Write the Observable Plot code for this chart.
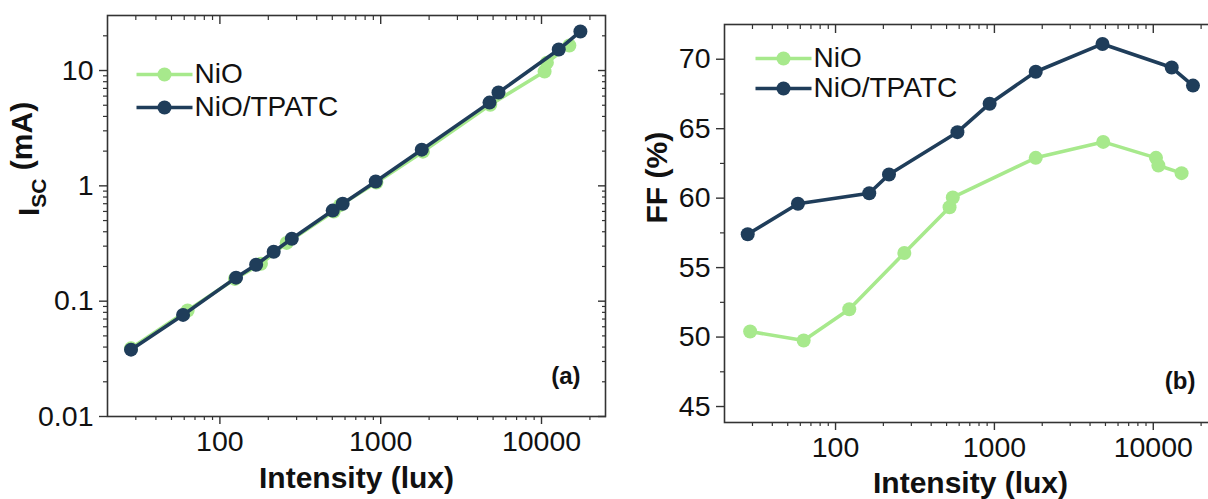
<!DOCTYPE html>
<html><head><meta charset="utf-8">
<script src="https://cdn.jsdelivr.net/npm/d3@7"></script>
<script src="https://cdn.jsdelivr.net/npm/@observablehq/plot@0.6"></script>
<style>
html,body{margin:0;padding:0;background:#fff;overflow:hidden;}
#wrap{position:relative;width:1208px;height:499px;overflow:hidden;background:#fff;}
#pa{position:absolute;left:0;top:0;width:615px;height:499px;}
#pb{position:absolute;left:615px;top:0;width:611px;height:499px;}
</style></head><body>
<div id="wrap"><div id="pa"></div><div id="pb"></div></div>
<script>
// ---- data ----
const seriesNames = ["NiO", "NiO/TPATC"];
const seriesColors = ["#a7e98c", "#1f3d5a"];

// Panel (a): Isc (mA) vs intensity (lux)
const iscNiOLux   = [28, 63, 124, 180, 260, 510, 560, 940, 1830, 4800, 10450, 10800, 14900];
const iscNiO      = [0.039, 0.083, 0.156, 0.211, 0.32, 0.60, 0.68, 1.07, 1.98, 5.05, 9.8, 11.7, 16.5];
const iscTPATCLux = [28, 59, 126, 168, 216, 280, 503, 580, 931, 1800, 4750, 5400, 12800, 17450];
const iscTPATC    = [0.038, 0.076, 0.16, 0.207, 0.268, 0.348, 0.61, 0.70, 1.09, 2.06, 5.27, 6.44, 15.2, 21.8];

// Panel (b): FF (%) vs intensity (lux)
const ffNiOLux   = [29, 63, 122, 271, 522, 547, 1820, 4840, 10400, 10770, 15070];
const ffNiO      = [50.4, 49.75, 52.0, 56.05, 59.35, 60.05, 62.9, 64.05, 62.9, 62.35, 61.8];
const ffTPATCLux = [28, 58, 163, 217, 585, 933, 1820, 4790, 13060, 17780];
const ffTPATC    = [57.4, 59.6, 60.35, 61.7, 64.75, 66.8, 69.1, 71.1, 69.4, 68.1];

// ticks
const xMajor = [100, 1000, 10000];
const xMajorLabels = ["100", "1000", "10000"];
const xMinor = [30, 40, 50, 60, 70, 80, 90, 200, 300, 400, 500, 600, 700, 800, 900,
                2000, 3000, 4000, 5000, 6000, 7000, 8000, 9000, 20000];
const yMajorA = [0.01, 0.1, 1, 10];
const yMajorALabels = ["0.01", "0.1", "1", "10"];
const yMinorA = [0.02, 0.03, 0.04, 0.05, 0.06, 0.07, 0.08, 0.09, 0.2, 0.3, 0.4, 0.5, 0.6, 0.7, 0.8, 0.9,
                 2, 3, 4, 5, 6, 7, 8, 9, 20];
const yMajorB = [45, 50, 55, 60, 65, 70];
const yMajorBLabels = ["45", "50", "55", "60", "65", "70"];
const yMinorB = [47.5, 52.5, 57.5, 62.5, 67.5];

const FONT = "'Liberation Sans', Arial, Helvetica, sans-serif";
const AXIS = "#333";
const TICKFS = 28.5;
const TITLEFS = 30;

function rows(xs, ys, name) { return xs.map((x, i) => ({x, y: ys[i], name})); }

const lineSym = {draw(ctx) { ctx.moveTo(-28, 0); ctx.lineTo(28, 0); }};

function panel(cfg) {
  const series = [
    rows(cfg.xs[0], cfg.ys[0], seriesNames[0]),
    rows(cfg.xs[1], cfg.ys[1], seriesNames[1])
  ];
  const marks = [
    Plot.axisX({anchor: "bottom", ticks: xMajor, tickSize: 8, tickPadding: 6, label: null,
      tickFormat: d => xMajorLabels[xMajor.indexOf(d)], fontSize: TICKFS, stroke: AXIS, strokeWidth: 1.4, fill: "#111"}),
    Plot.axisX({anchor: "bottom", ticks: xMinor, tickSize: 4, label: null, tickFormat: () => "", stroke: AXIS, strokeWidth: 1.2}),
    Plot.axisX({anchor: "top", ticks: xMajor, tickSize: -8, label: null, tickFormat: () => "", stroke: AXIS, strokeWidth: 1.4}),
    Plot.axisX({anchor: "top", ticks: xMinor, tickSize: -4, label: null, tickFormat: () => "", stroke: AXIS, strokeWidth: 1.2}),
    Plot.axisY({anchor: "left", ticks: cfg.yMajor, tickSize: 8, tickPadding: 6, label: null,
      tickFormat: d => cfg.yLabels[cfg.yMajor.indexOf(d)], fontSize: TICKFS, stroke: AXIS, strokeWidth: 1.4, fill: "#111"}),
    Plot.axisY({anchor: "left", ticks: cfg.yMinor, tickSize: 4, label: null, tickFormat: () => "", stroke: AXIS, strokeWidth: 1.2}),
    Plot.axisY({anchor: "right", ticks: cfg.yMajor, tickSize: -8, label: null, tickFormat: () => "", stroke: AXIS, strokeWidth: 1.4}),
    Plot.axisY({anchor: "right", ticks: cfg.yMinor, tickSize: -4, label: null, tickFormat: () => "", stroke: AXIS, strokeWidth: 1.2}),
    Plot.frame({stroke: AXIS, strokeWidth: 1.6}),
    // x title
    Plot.text([cfg.xTitle], {text: d => d, frameAnchor: "bottom", dy: cfg.xTitleDy, lineAnchor: "middle", fontWeight: "bold", fontSize: TITLEFS, fill: "#111"}),
    // y title
    Plot.text([cfg.yTitle], {text: d => d, frameAnchor: "left", dx: cfg.yTitleDx, rotate: -90, lineAnchor: "middle", fontWeight: "bold", fontSize: TITLEFS, fill: "#111"}),
    // panel tag
    Plot.text([cfg.tag], {text: d => d, frameAnchor: "bottom-right", dx: cfg.tagDx, dy: cfg.tagDy, textAnchor: "end", lineAnchor: "middle", fontWeight: "bold", fontSize: 24, fill: "#111"})
  ];
  series.forEach((s, k) => {
    marks.push(Plot.line(s, {x: "x", y: "y", stroke: seriesColors[k], strokeWidth: 3.6}));
    marks.push(Plot.dot(s, {x: "x", y: "y", r: 7, fill: seriesColors[k], stroke: "none"}));
  });
  // legend
  seriesNames.forEach((name, k) => {
    const dy = cfg.legDy + k * cfg.legStep;
    marks.push(Plot.dot([name], {frameAnchor: "top-left", dx: cfg.legDx, dy, symbol: lineSym, fill: "none", stroke: seriesColors[k], strokeWidth: 3.6}));
    marks.push(Plot.dot([name], {frameAnchor: "top-left", dx: cfg.legDx, dy, r: 7, fill: seriesColors[k], stroke: "none"}));
    marks.push(Plot.text([name], {text: d => d, frameAnchor: "top-left", dx: cfg.legDx + 30, dy, textAnchor: "start", lineAnchor: "middle", fontSize: 28, fill: "#111"}));
  });
  return Plot.plot({
    width: cfg.width, height: 499,
    marginLeft: cfg.ml, marginRight: cfg.mr, marginTop: cfg.mt, marginBottom: cfg.mb,
    x: {type: "log", domain: [20, 25000]},
    y: cfg.yScale,
    style: {fontFamily: FONT, fontSize: TICKFS + "px", color: "#111", background: "transparent", maxWidth: "none", overflow: "visible"},
    marks
  });
}

const svgA = panel({
  width: 615, ml: 107, mr: 10, mt: 15, mb: 83,
  yScale: {type: "log", domain: [0.01, 30]},
  yMajor: yMajorA, yLabels: yMajorALabels, yMinor: yMinorA,
  xs: [iscNiOLux, iscTPATCLux], ys: [iscNiO, iscTPATC],
  xTitle: "Intensity (lux)", xTitleDy: 62,
  yTitle: "ISC (mA)", yTitleDx: -78,
  tag: "(a)", tagDx: -25, tagDy: -40,
  legDx: 57, legDy: 59, legStep: 33
});
const svgB = panel({
  width: 611, ml: 109, mr: 10, mt: 24, mb: 77,
  yScale: {type: "linear", domain: [43.85, 72.5]},
  yMajor: yMajorB, yLabels: yMajorBLabels, yMinor: yMinorB,
  xs: [ffNiOLux, ffTPATCLux], ys: [ffNiO, ffTPATC],
  xTitle: "Intensity (lux)", xTitleDy: 61,
  yTitle: "FF (%)", yTitleDx: -67,
  tag: "(b)", tagDx: -21, tagDy: -41,
  legDx: 59, legDy: 34, legStep: 30
});
document.getElementById("pa").appendChild(svgA);
document.getElementById("pb").appendChild(svgB);

// subscript for I_SC
svgA.querySelectorAll("text").forEach(t => {
  if (t.textContent === "ISC (mA)") {
    t.textContent = "";
    const ns = "http://www.w3.org/2000/svg";
    const a = document.createElementNS(ns, "tspan"); a.textContent = "I";
    const b = document.createElementNS(ns, "tspan"); b.textContent = "SC";
    b.setAttribute("dy", "0.32em"); b.setAttribute("font-size", "21");
    const c = document.createElementNS(ns, "tspan"); c.textContent = " (mA)";
    c.setAttribute("dy", "-0.45em");
    t.appendChild(a); t.appendChild(b); t.appendChild(c);
  }
});
</script>
</body></html>
